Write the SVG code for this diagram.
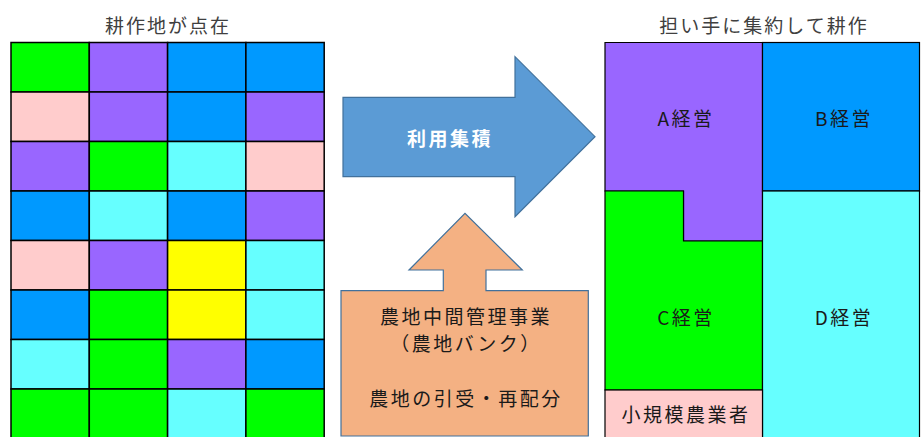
<svg xmlns="http://www.w3.org/2000/svg" width="922" height="437" viewBox="0 0 922 437">
<style>
text{font-family:"Noto Sans CJK JP","Noto Sans",sans-serif;text-anchor:middle;dominant-baseline:central}
.c{stroke:#000;stroke-width:1.5}
.g{fill:#00FF00}.p{fill:#9966FF}.b{fill:#0099FF}.k{fill:#FFCCCC}.y{fill:#FFFF00}.q{fill:#66FFFF}
.blk{stroke:#000;stroke-width:1.2}
.title{font-size:19px;fill:#404040;letter-spacing:2px}
.lbl{font-size:19px;fill:#1a1a1a;letter-spacing:2.5px}
</style>
<rect width="922" height="437" fill="#fff"/>
<g id="left-grid">
<text class="title" x="168" y="24">耕作地が点在</text>
<g id="r1"><rect class="c g" x="11" y="42.5" width="78.3" height="49.5"/><rect class="c p" x="89.3" y="42.5" width="78.3" height="49.5"/><rect class="c b" x="167.6" y="42.5" width="78.3" height="49.5"/><rect class="c b" x="245.9" y="42.5" width="78.3" height="49.5"/></g>
<g id="r2"><rect class="c k" x="11" y="92" width="78.3" height="49.5"/><rect class="c p" x="89.3" y="92" width="78.3" height="49.5"/><rect class="c b" x="167.6" y="92" width="78.3" height="49.5"/><rect class="c p" x="245.9" y="92" width="78.3" height="49.5"/></g>
<g id="r3"><rect class="c p" x="11" y="141.5" width="78.3" height="49.5"/><rect class="c g" x="89.3" y="141.5" width="78.3" height="49.5"/><rect class="c q" x="167.6" y="141.5" width="78.3" height="49.5"/><rect class="c k" x="245.9" y="141.5" width="78.3" height="49.5"/></g>
<g id="r4"><rect class="c b" x="11" y="191" width="78.3" height="49.5"/><rect class="c q" x="89.3" y="191" width="78.3" height="49.5"/><rect class="c b" x="167.6" y="191" width="78.3" height="49.5"/><rect class="c p" x="245.9" y="191" width="78.3" height="49.5"/></g>
<g id="r5"><rect class="c k" x="11" y="240.5" width="78.3" height="49.5"/><rect class="c p" x="89.3" y="240.5" width="78.3" height="49.5"/><rect class="c y" x="167.6" y="240.5" width="78.3" height="49.5"/><rect class="c q" x="245.9" y="240.5" width="78.3" height="49.5"/></g>
<g id="r6"><rect class="c b" x="11" y="290" width="78.3" height="49.5"/><rect class="c g" x="89.3" y="290" width="78.3" height="49.5"/><rect class="c y" x="167.6" y="290" width="78.3" height="49.5"/><rect class="c q" x="245.9" y="290" width="78.3" height="49.5"/></g>
<g id="r7"><rect class="c q" x="11" y="339.5" width="78.3" height="49.5"/><rect class="c g" x="89.3" y="339.5" width="78.3" height="49.5"/><rect class="c p" x="167.6" y="339.5" width="78.3" height="49.5"/><rect class="c b" x="245.9" y="339.5" width="78.3" height="49.5"/></g>
<g id="r8"><rect class="c g" x="11" y="389" width="78.3" height="49.5"/><rect class="c g" x="89.3" y="389" width="78.3" height="49.5"/><rect class="c q" x="167.6" y="389" width="78.3" height="49.5"/><rect class="c g" x="245.9" y="389" width="78.3" height="49.5"/></g>
</g>
<g id="connectors">
<g id="arrow-right">
<polygon points="343,97.3 515,97.3 515,56.7 595,136.7 515,216.7 515,176.7 343,176.7" fill="#5B9BD5" stroke="#41719C" stroke-width="1.2"/>
<text x="450" y="137" style="font-size:19px;font-weight:bold;fill:#fff;letter-spacing:2.5px">利用集積</text>
</g>
<g id="bank-callout">
<polygon points="341,290.7 443.3,290.7 443.3,270 409,270 465,213.3 522.3,270 486,270 486,290.7 588.3,290.7 588.3,436 341,436" fill="#F4B183" stroke="#41719C" stroke-width="1.2"/>
<text class="lbl" x="466" y="315">農地中間管理事業</text>
<text class="lbl" x="466" y="342">（農地バンク）</text>
<text class="lbl" x="466" y="397">農地の引受・再配分</text>
</g>
</g>
<g id="right-blocks">
<text class="title" x="764" y="24">担い手に集約して耕作</text>
<g id="A"><polygon class="blk p" points="605,42.5 762.5,42.5 762.5,241 683.5,241 683.5,191 605,191"/><text class="lbl" x="686" y="117">A経営</text></g>
<g id="B"><rect class="blk b" x="762.5" y="42.5" width="157" height="148.5"/><text class="lbl" x="844" y="117">B経営</text></g>
<g id="C"><polygon class="blk g" points="605,191 683.5,191 683.5,241 762.5,241 762.5,390 605,390"/><text class="lbl" x="686" y="316">C経営</text></g>
<g id="D"><rect class="blk q" x="762.5" y="191" width="157" height="250"/><text class="lbl" x="844" y="316">D経営</text></g>
<g id="small"><rect class="blk k" x="605" y="390" width="157.5" height="51"/><text class="lbl" x="686" y="413">小規模農業者</text></g>
</g>
</svg>
